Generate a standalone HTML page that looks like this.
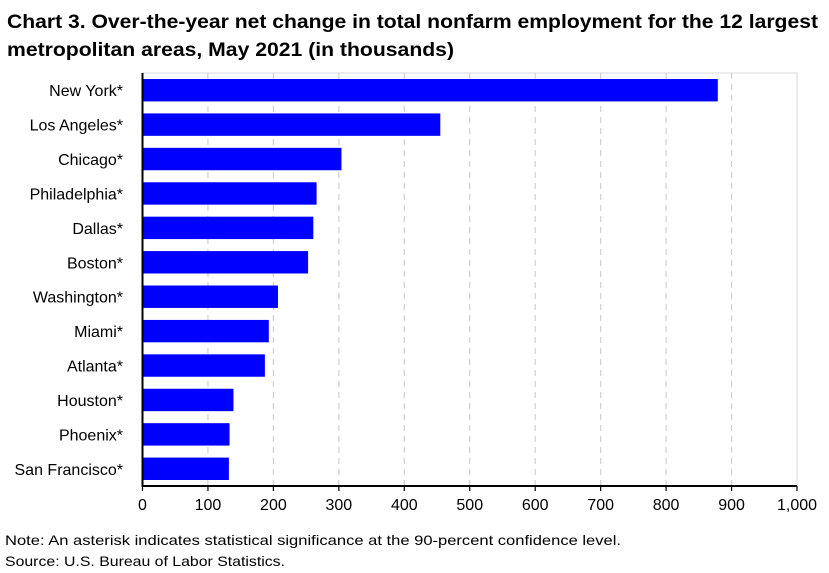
<!DOCTYPE html>
<html><head><meta charset="utf-8"><style>
body{margin:0;background:#fff;}
svg{display:block;font-family:"Liberation Sans",sans-serif;}
</style></head><body>
<svg id="chart" width="829" height="573">
<text x="7" y="28" font-size="19" font-weight="bold" textLength="811" lengthAdjust="spacingAndGlyphs">Chart 3. Over-the-year net change in total nonfarm employment for the 12 largest</text>
<text x="7" y="56" font-size="19" font-weight="bold" textLength="447" lengthAdjust="spacingAndGlyphs">metropolitan areas, May 2021 (in thousands)</text>
<g id="plot"></g>
<text x="5" y="545" font-size="14" textLength="616" lengthAdjust="spacingAndGlyphs">Note: An asterisk indicates statistical significance at the 90-percent confidence level.</text>
<text x="5" y="566" font-size="14" textLength="280" lengthAdjust="spacingAndGlyphs">Source: U.S. Bureau of Labor Statistics.</text>
</svg>
<script>
const categories=["New York*","Los Angeles*","Chicago*","Philadelphia*","Dallas*","Boston*","Washington*","Miami*","Atlanta*","Houston*","Phoenix*","San Francisco*"];
const values=[879,455,304,266,261,253,207,193,187,139,133,132];
const ticks=[0,100,200,300,400,500,600,700,800,900,1000];
const tickLabels=["0","100","200","300","400","500","600","700","800","900","1,000"];
const NS="http://www.w3.org/2000/svg";
const g=document.getElementById('plot');
const L=142.5,R=797,T=73,B=486;
const x=v=>L+(v/1000)*(R-L);
const band=(B-T)/categories.length;
const y=i=>T+i*band;
function mk(tag,attrs){const e=document.createElementNS(NS,tag);for(const k in attrs)e.setAttribute(k,attrs[k]);g.appendChild(e);return e;}
const frame=mk('rect',{x:L,y:T,width:R-L,height:B-T,fill:'none',stroke:'#d9d9d9','stroke-width':1});


ticks.forEach((t,i)=>{
  if(t>0&&t<1000){const gl=mk('line',{x1:x(t),x2:x(t),y1:T,y2:B,stroke:'#d0d0d0','stroke-width':1.2,'stroke-dasharray':'6,5'});
  
  }
  const tk=mk('line',{x1:x(t),x2:x(t),y1:B,y2:B+5,stroke:'#000','stroke-width':1.2});
  
  
  const tl=mk('text',{x:x(t),y:B+24,'font-size':16,'text-anchor':'middle'});
  tl.textContent=tickLabels[i];
  
  
});
categories.forEach((c,i)=>{
  const yc=y(i)+band/2;
  const r=mk('rect',{x:L,y:yc-11.2,width:x(values[i])-L,height:22.4,fill:'#0000ff'});
  
  
  const t=mk('text',{x:123,y:yc+6,'font-size':16,'text-anchor':'end'});
  t.textContent=c;
  
  
});
const ya=mk('line',{x1:L,x2:L,y1:T,y2:B,stroke:'#000','stroke-width':2});


const xa=mk('line',{x1:L-1,x2:R,y1:B,y2:B,stroke:'#000','stroke-width':2});


</script>
</body></html>
